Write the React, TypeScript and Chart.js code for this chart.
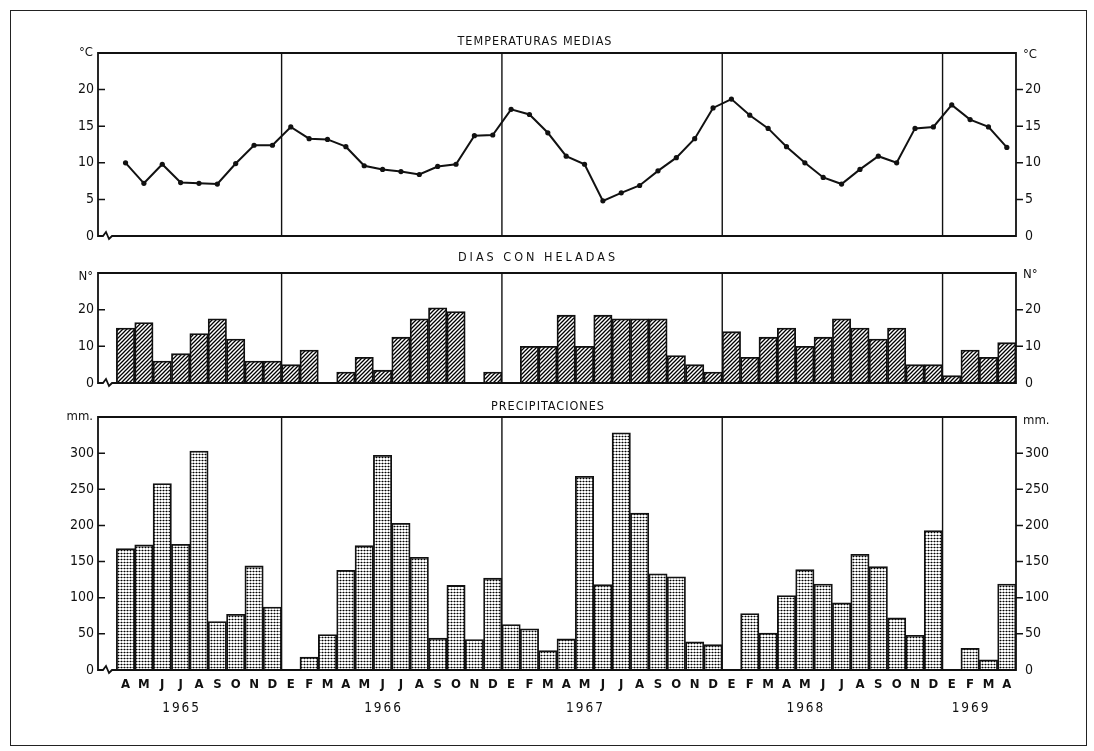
import React, { useEffect, useRef } from 'react';
import { Chart, registerables } from 'chart.js';

Chart.register(...registerables);

// ---------- DATA ----------
// One slot per month, Mar 1965 (empty slot next to the broken axis) .. Apr 1969
const monthLabels = [
  '',
  'A', 'M', 'J', 'J', 'A', 'S', 'O', 'N', 'D',
  'E', 'F', 'M', 'A', 'M', 'J', 'J', 'A', 'S', 'O', 'N', 'D',
  'E', 'F', 'M', 'A', 'M', 'J', 'J', 'A', 'S', 'O', 'N', 'D',
  'E', 'F', 'M', 'A', 'M', 'J', 'J', 'A', 'S', 'O', 'N', 'D',
  'E', 'F', 'M', 'A',
];

const yearLabels = ['1965', '1966', '1967', '1968', '1969'];
const yearLabelMonthIndex = [4, 15, 26, 38, 47];

// Temperaturas medias (°C)
const temperature = [
  null,
  10.0, 7.2, 9.8, 7.3, 7.2, 7.1, 9.9, 12.4, 12.4,
  14.9, 13.3, 13.2, 12.2, 9.6, 9.1, 8.8, 8.4, 9.5, 9.8, 13.7, 13.8,
  17.3, 16.6, 14.1, 10.9, 9.8, 4.8, 5.9, 6.9, 8.9, 10.7, 13.3, 17.5,
  18.7, 16.5, 14.7, 12.2, 10.0, 8.0, 7.1, 9.1, 10.9, 10.0, 14.7, 14.9,
  17.9, 15.9, 14.9, 12.1,
];

// Días con heladas (N°)
const frostDays = [
  null,
  15, 16.5, 6, 8, 13.5, 17.5, 12, 6, 6,
  5, 9, null, 3, 7, 3.5, 12.5, 17.5, 20.5, 19.5, null, 3,
  null, 10, 10, 18.5, 10, 18.5, 17.5, 17.5, 17.5, 7.5, 5, 3,
  14, 7, 12.5, 15, 10, 12.5, 17.5, 15, 12, 15, 5, 5,
  2, 9, 7, 11,
];

// Precipitaciones (mm)
const precipitation = [
  null,
  168, 173, 258, 174, 303, 67, 77, 144, 87,
  null, 18, 49, 138, 172, 297, 203, 156, 44, 117, 42, 127,
  63, 57, 27, 43, 268, 118, 328, 217, 133, 129, 39, 35,
  null, 78, 51, 103, 139, 119, 93, 160, 143, 72, 48, 193,
  null, 30, 14, 119,
];

const tempTicks = { max: 25, step: 5 };
const frostTicks = { max: 30, step: 10 };
const precipTicks = { max: 350, step: 50 };

// ---------- STYLE ----------
const FONT = "'DejaVu Sans Condensed', 'Liberation Sans Narrow', 'Liberation Sans', sans-serif";
const INK = '#111';

function makeHatch(): CanvasPattern | string {
  const s = 4;
  const c = document.createElement('canvas');
  c.width = s; c.height = s;
  const g = c.getContext('2d');
  if (!g) return '#888';
  g.fillStyle = '#fff';
  g.fillRect(0, 0, s, s);
  g.strokeStyle = '#000';
  g.lineWidth = 1.3;
  g.beginPath();
  g.moveTo(0, s); g.lineTo(s, 0);
  g.moveTo(-1, 1); g.lineTo(1, -1);
  g.moveTo(s - 1, s + 1); g.lineTo(s + 1, s - 1);
  g.stroke();
  const p = g.createPattern(c, 'repeat');
  return p || '#888';
}

function makeDots(): CanvasPattern | string {
  const s = 3;
  const c = document.createElement('canvas');
  c.width = s; c.height = s;
  const g = c.getContext('2d');
  if (!g) return '#aaa';
  g.fillStyle = '#fff';
  g.fillRect(0, 0, s, s);
  g.fillStyle = '#bdbdbd';
  g.fillRect(1, 0, 1, s);
  g.fillStyle = '#8a8a8a';
  g.fillRect(0, 1, s, 1);
  g.fillStyle = '#000';
  g.fillRect(1, 1, 1, 1);
  const p = g.createPattern(c, 'repeat');
  return p || '#aaa';
}

const decorPlugin = {
  id: 'panelDecor',
  afterDatasetsDraw(chart: any, _args: any, opts: any) {
    const { ctx, chartArea: a, scales } = chart;
    const x = scales.x;
    const y = scales.y;
    const base = y.getPixelForValue(0);
    ctx.save();
    ctx.strokeStyle = INK;
    ctx.lineCap = 'square';
    // frame (left, top, right)
    ctx.lineWidth = 1.8;
    ctx.beginPath();
    ctx.moveTo(a.left, base);
    ctx.lineTo(a.left, a.top);
    ctx.lineTo(a.right, a.top);
    ctx.lineTo(a.right, base);
    ctx.stroke();
    // baseline with axis break
    ctx.lineCap = 'butt';
    ctx.beginPath();
    ctx.moveTo(a.left, base);
    ctx.lineTo(a.left + 5, base);
    ctx.lineTo(a.left + 8, base - 4);
    ctx.lineTo(a.left + 11, base + 3);
    ctx.lineTo(a.left + 14, base);
    ctx.lineTo(a.right, base);
    ctx.stroke();
    // year separators (between D and E)
    ctx.lineWidth = 1.4;
    monthLabels.forEach((m, i) => {
      if (m === 'E') {
        const xx = (x.getPixelForValue(i - 1) + x.getPixelForValue(i)) / 2;
        ctx.beginPath();
        ctx.moveTo(xx, a.top);
        ctx.lineTo(xx, base);
        ctx.stroke();
      }
    });
    // tick marks: inward on the left, outward on the right
    ctx.lineWidth = 1.5;
    y.ticks.forEach((t: any) => {
      if (t.value <= y.min || t.value >= y.max) return;
      const py = y.getPixelForValue(t.value);
      ctx.beginPath();
      ctx.moveTo(a.left, py); ctx.lineTo(a.left + 7, py);
      ctx.moveTo(a.right, py); ctx.lineTo(a.right + 7, py);
      ctx.stroke();
    });
    // units
    ctx.fillStyle = INK;
    ctx.font = `13px ${FONT}`;
    ctx.textBaseline = 'middle';
    ctx.textAlign = 'right';
    ctx.fillText(opts.unit, a.left - 5, a.top + (opts.unitDyL || 0));
    ctx.textAlign = 'left';
    ctx.fillText(opts.unit, a.right + 7, a.top + (opts.unitDyR || 0));
    // title
    ctx.font = `12.5px ${FONT}`;
    (ctx as any).letterSpacing = `${opts.spacing || 0}px`;
    ctx.textAlign = 'center';
    ctx.textBaseline = 'bottom';
    ctx.fillText(opts.title, (a.left + a.right) / 2 + (opts.dx || 0), a.top - (opts.gap || 5));
    // year row (spaced digits), drawn under the month letters
    if (opts.years) {
      ctx.font = `13.5px ${FONT}`;
      (ctx as any).letterSpacing = '2px';
      ctx.textBaseline = 'middle';
      yearLabels.forEach((yl, k) => {
        ctx.fillText(yl, x.getPixelForValue(yearLabelMonthIndex[k]) + 1, base + 38);
      });
    }
    ctx.restore();
  },
};

function yAxes(cfg: { max: number; step: number }) {
  const common = {
    min: 0,
    max: cfg.max,
    grid: { display: false, drawTicks: false },
    border: { display: false },
    ticks: {
      stepSize: cfg.step,
      color: INK,
      font: { family: FONT, size: 14 },
      callback: (v: any) => (v >= cfg.max ? '' : String(v)),
    },
  };
  return {
    y: {
      ...common,
      position: 'left' as const,
      ticks: { ...common.ticks, padding: 4 },
      afterFit: (s: any) => { s.width = 40; },
    },
    y2: {
      ...common,
      position: 'right' as const,
      ticks: { ...common.ticks, padding: 9 },
      afterFit: (s: any) => { s.width = 40; },
    },
  };
}

const hiddenX = {
  type: 'category' as const,
  offset: true,
  display: false,
  grid: { display: false },
};

function baseOptions(padTop: number, padBottom: number, decor: any) {
  return {
    responsive: false,
    animation: false as const,
    devicePixelRatio: 1,
    layout: { padding: { left: 58, right: 38, top: padTop, bottom: padBottom } },
    plugins: {
      legend: { display: false },
      tooltip: { enabled: false },
      title: { display: false },
      panelDecor: decor,
    },
  };
}

export default function App() {
  const r1 = useRef<HTMLCanvasElement>(null);
  const r2 = useRef<HTMLCanvasElement>(null);
  const r3 = useRef<HTMLCanvasElement>(null);

  useEffect(() => {
    if (!r1.current || !r2.current || !r3.current) return;
    const hatch = makeHatch();
    const dots = makeDots();

    const tempChart = new Chart(r1.current, {
      type: 'line',
      data: {
        labels: monthLabels,
        datasets: [{
          data: temperature,
          borderColor: INK,
          borderWidth: 2,
          pointRadius: 2.6,
          pointBackgroundColor: INK,
          pointBorderColor: INK,
          pointBorderWidth: 0,
          tension: 0,
          spanGaps: false,
        }],
      },
      options: {
        ...baseOptions(53, 515, { title: 'TEMPERATURAS MEDIAS', unit: '°C', spacing: 1, dx: -22, gap: 5, unitDyL: 0, unitDyR: 2 }),
        scales: { x: hiddenX, ...yAxes(tempTicks) },
      } as any,
      plugins: [decorPlugin as any],
    });

    const frostChart = new Chart(r2.current, {
      type: 'bar',
      data: {
        labels: monthLabels,
        datasets: [{
          data: frostDays,
          backgroundColor: hatch as any,
          borderColor: INK,
          borderWidth: 1.8,
          barPercentage: 1,
          categoryPercentage: 1,
        }],
      },
      options: {
        ...baseOptions(273, 368, { title: 'DIAS CON HELADAS', unit: 'N°', spacing: 3, dx: -19, gap: 9, unitDyL: 4, unitDyR: 2 }),
        scales: { x: hiddenX, ...yAxes(frostTicks) },
      } as any,
      plugins: [decorPlugin as any],
    });

    const precipChart = new Chart(r3.current, {
      type: 'bar',
      data: {
        labels: monthLabels,
        datasets: [{
          data: precipitation,
          backgroundColor: dots as any,
          borderColor: INK,
          borderWidth: 1.8,
          barPercentage: 1,
          categoryPercentage: 1,
        }],
      },
      options: {
        ...baseOptions(417, 57, { title: 'PRECIPITACIONES', unit: 'mm.', spacing: 1, dx: -9, gap: 4, unitDyL: 0, unitDyR: 4, years: true }),
        scales: {
          x: {
            type: 'category',
            offset: true,
            grid: { display: false, drawTicks: false },
            border: { display: false },
            ticks: {
              autoSkip: false,
              maxRotation: 0,
              padding: 7,
              color: INK,
              font: { family: FONT, size: 13, weight: 'bold' },
            },
            afterFit: (s: any) => { s.height = 24; },
          },
          ...yAxes(precipTicks),
        },
      } as any,
      plugins: [decorPlugin as any],
    });

    return () => {
      tempChart.destroy();
      frostChart.destroy();
      precipChart.destroy();
    };
  }, []);

  const cv: React.CSSProperties = { position: 'absolute', left: 0, top: 0, width: 1094, height: 751 };
  return (
    <div style={{ position: 'absolute', left: 0, top: 0, width: 1094, height: 751, background: '#fff', overflow: 'hidden' }}>
      <div style={{ position: 'absolute', left: 10, top: 10, width: 1077, height: 736, border: '1.5px solid #222', boxSizing: 'border-box' }} />
      <canvas ref={r1} width={1094} height={751} style={cv} />
      <canvas ref={r2} width={1094} height={751} style={cv} />
      <canvas ref={r3} width={1094} height={751} style={cv} />
    </div>
  );
}
